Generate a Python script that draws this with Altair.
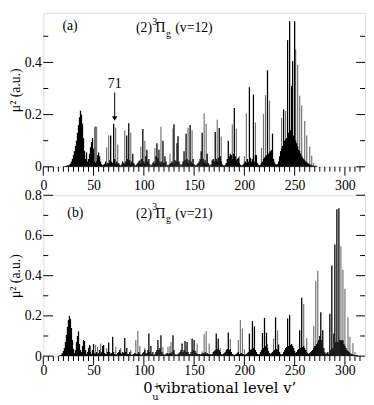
import altair as alt
import pandas as pd

FONT = "Liberation Serif"
FONT_TITLE = "DejaVu Serif"
GRAY = "#747474"

# ---------------- data ----------------
X_LABELS = [0, 50, 100, 150, 200, 250, 300]
X_MAX = 320

# panel (a): (2)3Pi_g (v=12)
A_YMAX = 0.59
A_Y_LABELS = [0, 0.2, 0.4]
A_Y_MINOR = [0.1, 0.3, 0.5]
A_BLACK_START = 20  # black sticks, one value per v' from this level on
A_BLACK = [
    0.002, 0.002, 0.003, 0.004, 0.005, 0.006, 0.008, 0.012, 0.02, 0.03,
    0.045, 0.06, 0.08, 0.1, 0.13, 0.16, 0.19, 0.215, 0.2, 0.165,
    0.11, 0.06, 0.03, 0.055, 0.02, 0.03, 0.05, 0.075, 0.095, 0.11,
    0.07, 0.02, 0.015, 0.02, 0.045, 0.055, 0.04, 0.02, 0.01, 0.006,
    0.008, 0.012, 0.02, 0.01, 0.015, 0.012, 0.025, 0.12, 0.02, 0.015,
    0.165, 0.03, 0.012, 0.02, 0.01, 0.015, 0.008, 0.005, 0.01, 0.02,
    0.015, 0.01, 0.02, 0.12, 0.03, 0.167, 0.025, 0.012, 0.02, 0.05,
    0.015, 0.008, 0.005, 0.01, 0.015, 0.02, 0.025, 0.012, 0.03, 0.145,
    0.02, 0.012, 0.04, 0.065, 0.02, 0.03, 0.01, 0.005, 0.008, 0.015,
    0.02, 0.012, 0.04, 0.09, 0.035, 0.065, 0.02, 0.012, 0.02, 0.1,
    0.015, 0.04, 0.02, 0.008, 0.005, 0.008, 0.01, 0.015, 0.02, 0.012,
    0.163, 0.025, 0.02, 0.09, 0.117, 0.02, 0.01, 0.005, 0.01, 0.02,
    0.06, 0.025, 0.127, 0.03, 0.015, 0.025, 0.16, 0.02, 0.012, 0.03,
    0.01, 0.006, 0.005, 0.01, 0.015, 0.02, 0.03, 0.06, 0.13, 0.03,
    0.015, 0.025, 0.012, 0.05, 0.015, 0.008, 0.005, 0.01, 0.025, 0.03,
    0.02, 0.133, 0.03, 0.02, 0.035, 0.149, 0.04, 0.02, 0.01, 0.006,
    0.005, 0.008, 0.015, 0.03, 0.1, 0.04, 0.05, 0.045, 0.03, 0.05,
    0.225, 0.04, 0.025, 0.03, 0.035, 0.015, 0.008, 0.005, 0.006, 0.01,
    0.015, 0.02, 0.015, 0.03, 0.02, 0.305, 0.035, 0.02, 0.03, 0.277,
    0.02, 0.045, 0.045, 0.015, 0.008, 0.006, 0.008, 0.015, 0.02, 0.03,
    0.035, 0.04, 0.045, 0.37, 0.05, 0.055, 0.06, 0.065, 0.127, 0.03,
    0.015, 0.01, 0.008, 0.01, 0.02, 0.04, 0.06, 0.07, 0.08, 0.22,
    0.1, 0.105, 0.11, 0.485, 0.13, 0.558, 0.14, 0.31, 0.405, 0.12,
    0.558, 0.1, 0.09, 0.08, 0.065, 0.06, 0.05, 0.04, 0.035, 0.03,
    0.025, 0.02, 0.018, 0.015, 0.012, 0.01, 0.008, 0.006, 0.005, 0.004,
    0.003, 0.002, 0.002,
]
A_GRAY_V = [51, 52, 53, 63, 65, 72, 74, 81, 87, 97, 101, 111, 117, 126, 129,
            144, 148, 160, 162, 173, 177, 188, 192, 195, 200, 202, 211, 217,
            219, 221, 225, 230, 235, 237, 241, 251, 253, 255, 257, 260, 262,
            265, 267, 269, 271]
A_GRAY_Y = [0.153, 0.155, 0.153, 0.075, 0.12, 0.15, 0.085, 0.139, 0.13, 0.078,
            0.1, 0.072, 0.153, 0.05, 0.147, 0.15, 0.14, 0.204, 0.165, 0.18,
            0.115, 0.163, 0.146, 0.04, 0.04, 0.205, 0.17, 0.072, 0.203, 0.274,
            0.254, 0.02, 0.03, 0.187, 0.214, 0.45, 0.39, 0.272, 0.235, 0.175,
            0.12, 0.078, 0.042, 0.015, 0.006]
ARROW_V = 71
ARROW_LABEL = "71"
ARROW_TOP, ARROW_TIP, ARROW_TEXT = 0.285, 0.185, 0.30

# panel (b): (2)3Pi_g (v=21)
B_YMAX = 0.8
B_Y_LABELS = [0, 0.2, 0.4, 0.6, 0.8]
B_Y_MINOR = [0.1, 0.3, 0.5, 0.7]
B_BLACK_START = 16
B_BLACK = [
    0.003, 0.005, 0.008, 0.015, 0.025, 0.04, 0.07, 0.105, 0.145, 0.18,
    0.2, 0.185, 0.14, 0.08, 0.035, 0.015, 0.03, 0.07, 0.1, 0.123,
    0.06, 0.03, 0.02, 0.05, 0.08, 0.075, 0.03, 0.01, 0.02, 0.04,
    0.055, 0.02, 0.01, 0.03, 0.06, 0.015, 0.01, 0.02, 0.01, 0.015,
    0.03, 0.01, 0.02, 0.05, 0.055, 0.015, 0.01, 0.01, 0.02, 0.068,
    0.02, 0.01, 0.015, 0.096, 0.02, 0.01, 0.005, 0.008, 0.015, 0.02,
    0.03, 0.015, 0.01, 0.02, 0.015, 0.09, 0.02, 0.04, 0.01, 0.01,
    0.02, 0.008, 0.005, 0.008, 0.01, 0.015, 0.01, 0.01, 0.012, 0.02,
    0.01, 0.005, 0.008, 0.015, 0.02, 0.03, 0.01, 0.015, 0.03, 0.112,
    0.02, 0.05, 0.01, 0.02, 0.005, 0.01, 0.02, 0.03, 0.08, 0.03,
    0.04, 0.104, 0.02, 0.01, 0.005, 0.008, 0.01, 0.015, 0.01, 0.012,
    0.015, 0.01, 0.02, 0.104, 0.03, 0.01, 0.005, 0.008, 0.01, 0.015,
    0.02, 0.03, 0.063, 0.02, 0.03, 0.075, 0.02, 0.07, 0.02, 0.01,
    0.01, 0.02, 0.088, 0.03, 0.08, 0.025, 0.015, 0.01, 0.008, 0.01,
    0.008, 0.01, 0.012, 0.015, 0.01, 0.02, 0.01, 0.015, 0.01, 0.008,
    0.01, 0.008, 0.01, 0.02, 0.025, 0.03, 0.112, 0.035, 0.088, 0.03,
    0.02, 0.01, 0.008, 0.01, 0.015, 0.02, 0.03, 0.035, 0.117, 0.03,
    0.035, 0.02, 0.01, 0.008, 0.006, 0.008, 0.01, 0.015, 0.02, 0.01,
    0.012, 0.015, 0.01, 0.01, 0.006, 0.008, 0.01, 0.015, 0.02, 0.112,
    0.03, 0.035, 0.174, 0.04, 0.148, 0.03, 0.02, 0.01, 0.008, 0.01,
    0.02, 0.03, 0.115, 0.04, 0.19, 0.05, 0.116, 0.04, 0.025, 0.015,
    0.01, 0.015, 0.02, 0.025, 0.03, 0.193, 0.035, 0.03, 0.058, 0.02,
    0.01, 0.008, 0.01, 0.02, 0.03, 0.04, 0.045, 0.187, 0.05, 0.205,
    0.055, 0.06, 0.05, 0.04, 0.025, 0.015, 0.02, 0.03, 0.035, 0.128,
    0.04, 0.29, 0.045, 0.05, 0.04, 0.03, 0.02, 0.015, 0.01, 0.015,
    0.02, 0.025, 0.03, 0.04, 0.05, 0.05, 0.06, 0.07, 0.08, 0.1,
    0.218, 0.08, 0.128, 0.04, 0.02, 0.01, 0.015, 0.02, 0.01, 0.21,
    0.03, 0.45, 0.04, 0.112, 0.555, 0.07, 0.73, 0.07, 0.735, 0.08,
    0.08, 0.075, 0.08, 0.06, 0.05, 0.04, 0.03, 0.025, 0.02, 0.015,
    0.012, 0.01, 0.008, 0.006, 0.005, 0.004, 0.003, 0.002,
]
B_GRAY_V = [47, 52, 54, 57, 63, 72, 77, 87, 92, 94, 96, 101, 119, 124, 126,
            127, 153, 158, 160, 162, 165, 176, 186, 194, 196, 198, 200, 223,
            229, 233, 246, 259, 262, 269, 271, 273, 296, 298, 300, 303, 305,
            308, 310, 312]
B_GRAY_Y = [0.05, 0.055, 0.045, 0.063, 0.04, 0.047, 0.04, 0.03, 0.08, 0.125,
            0.05, 0.04, 0.045, 0.047, 0.05, 0.07, 0.063, 0.023, 0.11, 0.125,
            0.063, 0.04, 0.085, 0.08, 0.18, 0.137, 0.034, 0.06, 0.088, 0.128,
            0.04, 0.259, 0.09, 0.15, 0.372, 0.424, 0.546, 0.43, 0.335, 0.193,
            0.096, 0.065, 0.02, 0.008]

Y_TITLE = "μ² (a.u.)"
X_TITLE_PARTS = ["0", "u", "+", "vibrational level v’"]

# ---------------- layout ----------------
W = 328
HA = 157
HB = 164
X_MINOR = [v for v in range(5, X_MAX, 5) if v % 50]


def txt(s, x, y, size=14, align="left", font=FONT):
    return alt.Chart(pd.DataFrame({"t": [s]})).mark_text(
        font=font, fontSize=size, align=align, baseline="alphabetic", color="black"
    ).encode(x=alt.value(x), y=alt.value(y), text="t:N")


def panel(black_start, black_vals, gray_v, gray_y, ymax, ylabels, yminor, H, lpad, extra):
    dfb = pd.DataFrame({"v": list(range(black_start, black_start + len(black_vals))),
                        "mu2": black_vals})
    dfg = pd.DataFrame({"v": gray_v, "mu2": gray_y})
    xaxis = alt.Axis(values=X_LABELS, ticks=False, domain=False, grid=False,
                     labelPadding=lpad, labelFlush=False, labelOverlap=False, title=None,
                     labelFont=FONT, labelFontSize=14, labelColor="black")
    yaxis = alt.Axis(values=ylabels, format="~g", ticks=False, domain=False, grid=False,
                     labelPadding=2, labelFlush=False, labelOverlap=False,
                     title=Y_TITLE, titleFont=FONT, titleFontSize=14,
                     titleFontWeight="normal", titleColor="black", titlePadding=2,
                     labelFont=FONT, labelFontSize=14, labelColor="black")
    X = alt.X("v:Q", scale=alt.Scale(domain=[0, X_MAX], nice=False, zero=False), axis=xaxis)
    Y = alt.Y("mu2:Q", scale=alt.Scale(domain=[0, ymax], nice=False, zero=False), axis=yaxis)

    gray = alt.Chart(dfg).mark_rule(color=GRAY, strokeWidth=1.2).encode(x=X, y=Y, y2=alt.datum(0))
    black = alt.Chart(dfb).mark_rule(color="black", strokeWidth=1.3).encode(x=X, y=Y, y2=alt.datum(0))

    xminor = alt.Chart(pd.DataFrame({"v": X_MINOR})).mark_rule(color="black").encode(
        x=X, y=alt.value(H), y2=alt.value(H + 5))
    xmajor = alt.Chart(pd.DataFrame({"v": X_LABELS})).mark_rule(color="black").encode(
        x=X, y=alt.value(H), y2=alt.value(H + 9))
    ymin_df = pd.DataFrame({"mu2": yminor})
    ymaj_df = pd.DataFrame({"mu2": ylabels})
    yl1 = alt.Chart(ymin_df).mark_rule(color="black").encode(y=Y, x=alt.value(0), x2=alt.value(5))
    yr1 = alt.Chart(ymin_df).mark_rule(color="black").encode(y=Y, x=alt.value(W), x2=alt.value(W - 5))
    yl2 = alt.Chart(ymaj_df).mark_rule(color="black").encode(y=Y, x=alt.value(0), x2=alt.value(10))
    yr2 = alt.Chart(ymaj_df).mark_rule(color="black").encode(y=Y, x=alt.value(W), x2=alt.value(W - 9))

    layers = [gray, black, xminor, xmajor, yl1, yr1, yl2, yr2] + extra(X, Y)
    return alt.layer(*layers).properties(width=W, height=H)


def extra_a(X, Y):
    shaft = alt.Chart(pd.DataFrame({"v": [ARROW_V], "mu2": [ARROW_TOP], "tip": [ARROW_TIP]})
                      ).mark_rule(color="black", strokeWidth=1).encode(x=X, y=Y, y2="tip:Q")
    head = alt.Chart(pd.DataFrame({"v": [ARROW_V], "mu2": [ARROW_TIP]})).mark_point(
        shape="triangle-down", filled=True, size=30, color="black", opacity=1).encode(x=X, y=Y)
    lab = alt.Chart(pd.DataFrame({"v": [ARROW_V], "mu2": [ARROW_TEXT], "t": [ARROW_LABEL]})
                    ).mark_text(font=FONT, fontSize=14, align="center", baseline="alphabetic",
                                color="black").encode(x=X, y=Y, text="t:N")
    return [shaft, head, lab,
            txt("(a)", 19.5, 18),
            txt("(2)", 94.5, 20),
            txt("3", 111, 12.5, size=10),
            txt("Π", 114.5, 20),
            txt("g", 125, 24.5, size=10),
            txt("(v=12)", 134.5, 20)]


def extra_b(X, Y):
    return [txt("(b)", 24.5, 22),
            txt("(2)", 94.5, 23),
            txt("3", 111, 15.5, size=10),
            txt("Π", 114.5, 23),
            txt("g", 125, 27.5, size=10),
            txt("(v=21)", 134.5, 23),
            txt(X_TITLE_PARTS[0], 102, HB + 38, size=15, font=FONT_TITLE),
            txt(X_TITLE_PARTS[1], 111, HB + 45, size=10, font=FONT_TITLE),
            txt(X_TITLE_PARTS[2], 112, HB + 34, size=9, font=FONT_TITLE),
            txt(X_TITLE_PARTS[3], 117, HB + 38, size=15, font=FONT_TITLE)]


pa = panel(A_BLACK_START, A_BLACK, A_GRAY_V, A_GRAY_Y, A_YMAX, A_Y_LABELS, A_Y_MINOR, HA, 12, extra_a)
pb = panel(B_BLACK_START, B_BLACK, B_GRAY_V, B_GRAY_Y, B_YMAX, B_Y_LABELS, B_Y_MINOR, HB, 8, extra_b)

chart = alt.vconcat(pa, pb, spacing=29, bounds="flush").properties(
    padding={"left": 0, "top": 0, "right": 0, "bottom": 0}
).configure_view(stroke="black", strokeWidth=1).configure(background="white")

chart.save("out.html", embed_options={"renderer": "svg", "actions": False})
